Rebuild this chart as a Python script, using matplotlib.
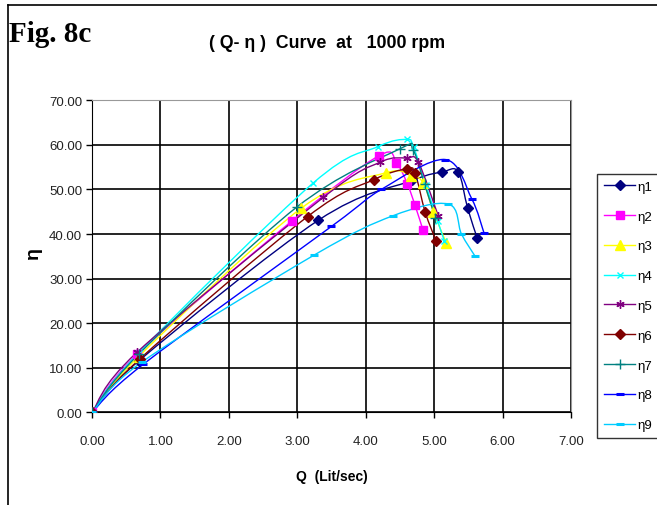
import matplotlib
matplotlib.use("Agg")
import matplotlib.pyplot as plt
import numpy as np
from matplotlib.path import Path
from matplotlib.patches import PathPatch
from matplotlib.lines import Line2D

# data: Q (Lit/sec) and efficiency for each series
q1 = [0, 0.68, 3.31, 4.68, 5.12, 5.35, 5.49, 5.63]
e1 = [0, 11.5, 43.1, 52.0, 53.9, 54.0, 45.8, 39.1]
q2 = [0, 0.66, 2.92, 4.20, 4.45, 4.61, 4.72, 4.84]
e2 = [0, 13.0, 42.9, 57.6, 55.9, 51.2, 46.5, 40.8]
q3 = [0, 0.68, 3.06, 4.29, 4.66, 4.84, 4.99, 5.18]
e3 = [0, 12.5, 45.8, 53.7, 53.1, 51.5, 45.0, 37.9]
q4 = [0, 0.68, 3.23, 4.18, 4.60, 4.70, 4.88, 5.05, 5.15]
e4 = [0, 13.3, 51.4, 59.6, 61.2, 59.5, 51.0, 43.0, 38.5]
q5 = [0, 0.66, 3.38, 4.21, 4.60, 4.77, 5.06]
e5 = [0, 13.5, 48.2, 56.1, 57.0, 56.1, 44.1]
q6 = [0, 0.70, 3.15, 4.12, 4.60, 4.72, 4.87, 5.03]
e6 = [0, 12.0, 43.9, 52.2, 54.6, 53.7, 44.9, 38.4]
q7 = [0, 0.68, 2.99, 4.50, 4.69, 4.86, 5.02]
e7 = [0, 13.0, 46.0, 59.1, 58.9, 51.2, 43.5]
q8 = [0, 0.75, 3.50, 4.23, 5.16, 5.55, 5.73]
e8 = [0, 10.8, 41.7, 50.0, 56.7, 47.9, 40.2]
q9 = [0, 0.73, 3.25, 4.40, 5.21, 5.40, 5.60]
e9 = [0, 11.3, 35.3, 44.1, 46.7, 40.0, 35.0]

labels = ["η1", "η2", "η3", "η4", "η5", "η6", "η7", "η8", "η9"]
colors = ["#000080", "#FF00FF", "#FFFF00", "#00FFFF", "#800080",
          "#800000", "#008080", "#0000FF", "#00CCFF"]
markers = ["D", "s", "^", "x", (6, 2, 0), "D", "+", "_", "_"]
msizes = [5.5, 6, 7, 5, 6, 5.5, 7, 6, 6]

series = [(q1, e1), (q2, e2), (q3, e3), (q4, e4), (q5, e5),
          (q6, e6), (q7, e7), (q8, e8), (q9, e9)]


def smooth_path(x, y):
    # excel style smoothed line: cubic bezier through the points
    p = np.column_stack([x, y]).astype(float)
    n = len(p)
    verts = [p[0]]
    codes = [Path.MOVETO]
    for i in range(n - 1):
        p0 = p[i - 1] if i > 0 else p[i]
        p3 = p[i + 2] if i + 2 < n else p[i + 1]
        c1 = p[i] + (p[i + 1] - p0) / 6.0
        c2 = p[i + 1] - (p3 - p[i]) / 6.0
        verts += [c1, c2, p[i + 1]]
        codes += [Path.CURVE4] * 3
    return Path(verts, codes)


plt.rcParams["font.family"] = ["Liberation Sans", "DejaVu Sans"]
fig = plt.figure(figsize=(6.57, 5.06), dpi=100)
ax = fig.add_axes([0.140, 0.183, 0.729, 0.617])

handles = []
for (x, y), c, m, ms, lab in zip(series, colors, markers, msizes, labels):
    ax.add_patch(PathPatch(smooth_path(x, y), facecolor="none",
                           edgecolor=c, lw=1.0, zorder=3))
    mew = 2.2 if m == "_" else 1.0
    ax.plot(x, y, ls="none", marker=m, ms=ms, color=c, mec=c, mew=mew,
            zorder=4)
    handles.append(Line2D([], [], color=c, lw=1.0, marker=m, ms=ms,
                          mec=c, mew=mew))

ax.set_xlim(0, 7)
ax.set_ylim(0, 70)
ax.set_xticks(np.arange(0, 7.01, 1))
ax.set_yticks(np.arange(0, 70.01, 10))
ax.set_xticklabels(["%.2f" % v for v in np.arange(0, 7.01, 1)])
ax.set_yticklabels(["%.2f" % v for v in np.arange(0, 70.01, 10)])
ax.grid(True, color="black", lw=1.2)
ax.set_axisbelow(True)
for s in ["top", "right"]:
    ax.spines[s].set_color("#999999")
for s in ["left", "bottom"]:
    ax.spines[s].set_color("black")
ax.tick_params(axis="both", direction="out", length=4, width=1,
               labelsize=9.5, labelcolor="#222222")
ax.tick_params(axis="x", pad=12)
ax.tick_params(axis="y", pad=3)

leg = fig.legend(handles, labels, loc="upper left",
                 bbox_to_anchor=(0.909, 0.654), borderaxespad=0,
                 fancybox=False, edgecolor="black", fontsize=9.5,
                 labelspacing=1.33, handlelength=2.4, handletextpad=0.15,
                 borderpad=0.5)
leg.get_frame().set_linewidth(1.0)

fig.text(9 / 657, 1 - 35 / 506, "Fig. 8c", family="Liberation Serif",
         weight="bold", size=21, va="center", ha="left")
fig.text(327 / 657, 1 - 44 / 506, "( Q- η )  Curve  at   1000 rpm",
         weight="bold", size=12.8, va="center", ha="center")
fig.text(33 / 657, 1 - 253 / 506, "η", weight="bold", size=14,
         rotation=90, va="center", ha="center")
fig.text(332 / 657, 1 - 477 / 506, "Q  (Lit/sec)", weight="bold",
         size=10, va="center", ha="center")

# outer frame lines (left and top)
fig.add_artist(Line2D([7.5 / 657, 7.5 / 657], [0, 1 - 6 / 506],
                      color="black", lw=1.2, transform=fig.transFigure))
fig.add_artist(Line2D([7.5 / 657, 1], [1 - 6 / 506, 1 - 6 / 506],
                      color="black", lw=1.2, transform=fig.transFigure))

fig.savefig("out.png", dpi=100)
